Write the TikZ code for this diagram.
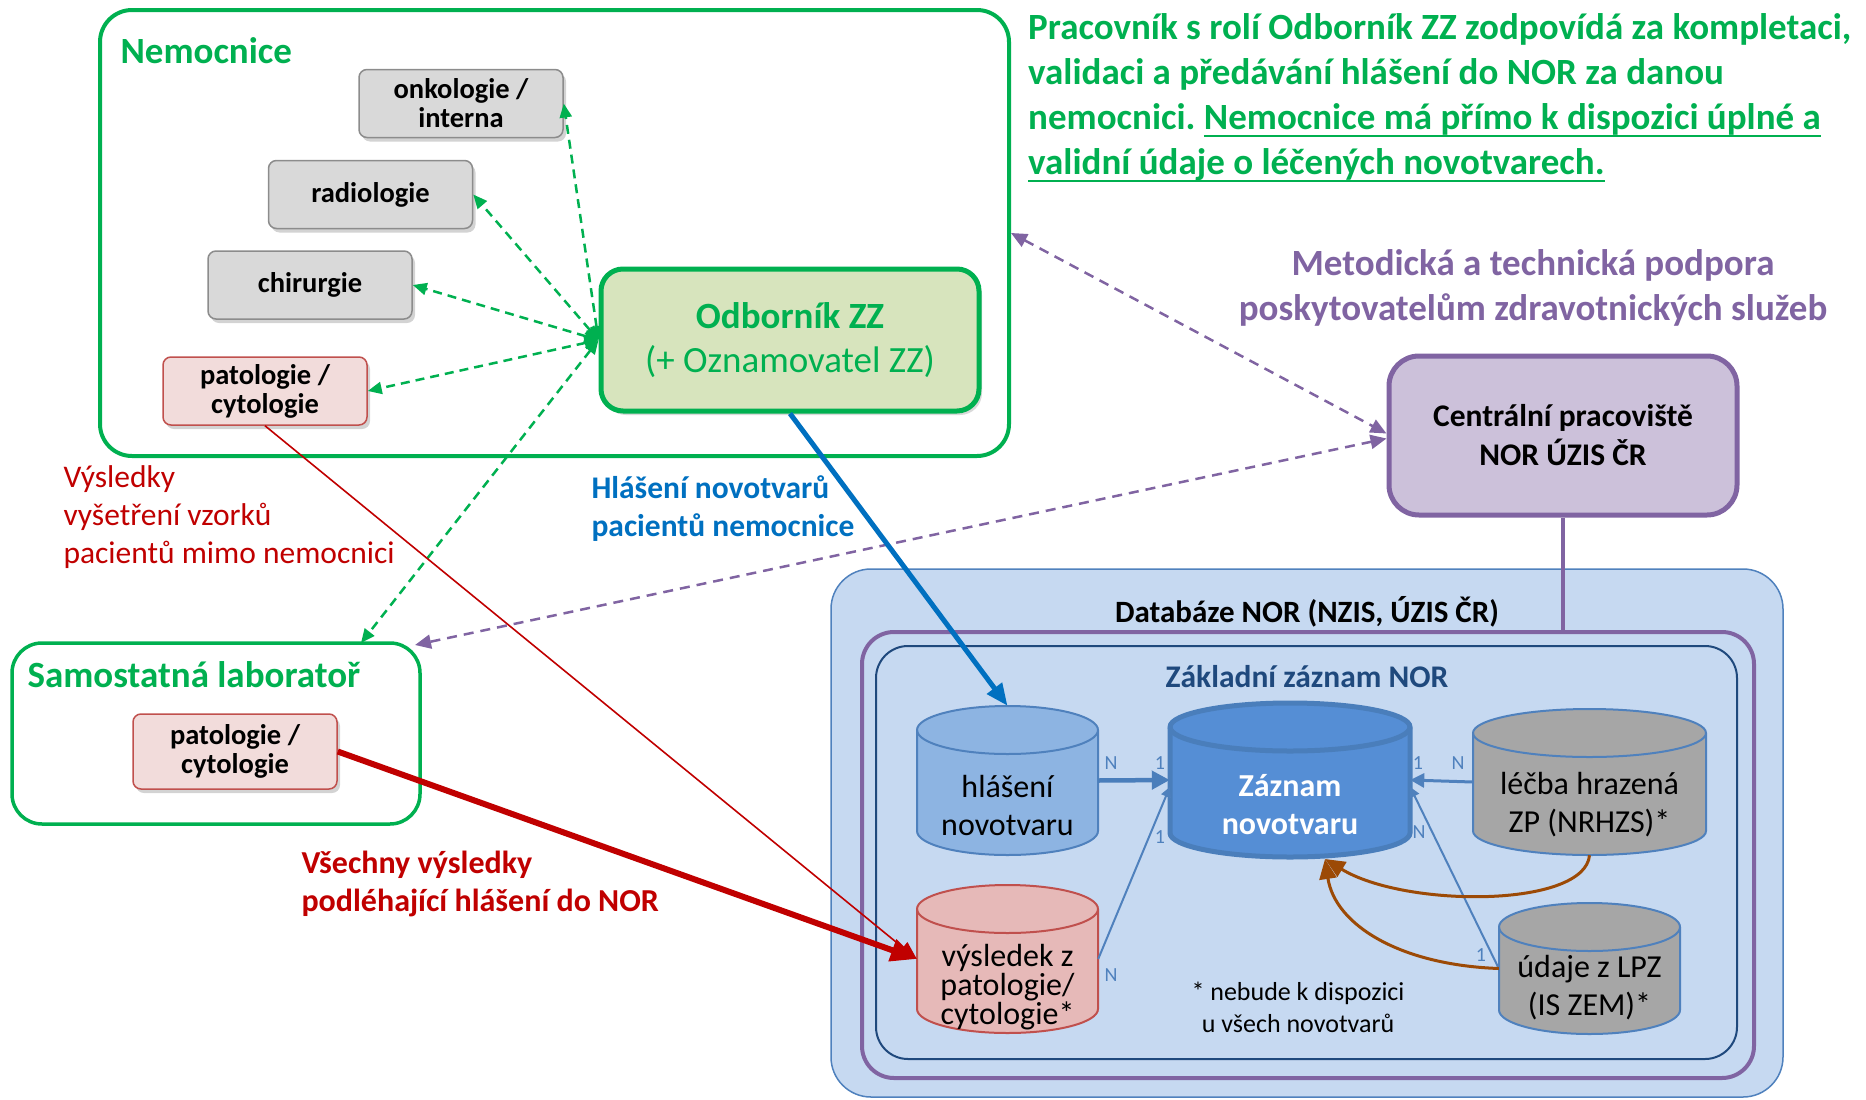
\documentclass[tikz,border=0pt]{standalone}
\usepackage{fontspec}
\setmainfont{Carlito}
\usetikzlibrary{arrows.meta,shadows,positioning}
\frenchspacing

\definecolor{zzgreen}{HTML}{00B050}
\definecolor{odbfill}{HTML}{D7E4BD}
\definecolor{greyfill}{HTML}{D9D9D9}
\definecolor{greyline}{HTML}{8C8C8C}
\definecolor{pinkfill}{HTML}{F2DCDB}
\definecolor{pinkline}{HTML}{C0504D}
\definecolor{norpurple}{HTML}{8064A2}
\definecolor{purplefill}{HTML}{CCC1DA}
\definecolor{dbfill}{HTML}{C6D9F1}
\definecolor{dbline}{HTML}{4F81BD}
\definecolor{darkblue}{HTML}{1F497D}
\definecolor{hlfill}{HTML}{8DB4E2}
\definecolor{zaznfill}{HTML}{558ED5}
\definecolor{zaznline}{HTML}{4A7EBB}
\definecolor{cylgrey}{HTML}{A6A6A6}
\definecolor{vysfill}{HTML}{E6B9B8}
\definecolor{norred}{HTML}{C00000}
\definecolor{norblue}{HTML}{0070C0}
\definecolor{lpzbrown}{HTML}{9C4A06}

\newcommand{\ulgreen}[1]{\setbox0\hbox{#1}\rlap{\rule[-8pt]{\wd0}{2.5pt}}\box0}

\newcommand{\dbcyl}[7]{%
  \filldraw[fill=#6,#7] (#2-#4/2,-#3-24) -- (#2-#4/2,-#3-#5+24)
    arc[start angle=180,end angle=360,x radius=#4/2,y radius=24]
    -- (#2+#4/2,-#3-24) arc[start angle=0,end angle=180,x radius=#4/2,y radius=24] -- cycle;
  \draw[#7] (#2-#4/2,-#3-24) arc[start angle=180,end angle=360,x radius=#4/2,y radius=24];
  \node[minimum width=#4,minimum height=#5,inner sep=0] (#1) at (#2,-#3-#5/2) {};}

\begin{document}
\begin{tikzpicture}[x=1pt, y=1pt,
  bigtxt/.style={font=\bfseries\fontsize{37}{45}\selectfont},
  midtxt/.style={font=\fontsize{31.5}{38}\selectfont},
  grp/.style={draw, rounded corners=32, inner sep=0},
  unit/.style={draw=greyline, fill=greyfill, line width=1.5, rounded corners=8,
    minimum width=204, minimum height=68, align=center,
    font=\bfseries\fontsize{28.5}{29}\selectfont,
    drop shadow={opacity=0.35, shadow xshift=3pt, shadow yshift=-4pt}},
  patbox/.style={unit, draw=pinkline, fill=pinkfill},
  cyltxt/.style={align=center, font=\fontsize{32}{38}\selectfont},
  card/.style={text=dbline, inner sep=0, font=\fontsize{20}{24}\selectfont},
  gdash/.style={zzgreen, line width=2.5, dash pattern=on 9pt off 6pt,
    arrows={Triangle[length=14pt,width=12pt]-Triangle[length=14pt,width=12pt]}},
  pdash/.style={norpurple, line width=2.5, dash pattern=on 10pt off 7pt,
    arrows={Triangle[length=16pt,width=14pt]-Triangle[length=16pt,width=14pt]}}]
\useasboundingbox (0,0) rectangle (1866,-1100);

\node[grp, draw=zzgreen, line width=4, minimum width=909, minimum height=446] (nem) at (554.5,-233) {};
\node[bigtxt, text=zzgreen, anchor=west] (nemlbl) at (117,-51) {Nemocnice};
\node[unit] (onko) at (461,-103.5) {onkologie /\\interna};
\node[unit] (radio) at (370.5,-194.5) {radiologie};
\node[unit] (chir) at (310,-285) {chirurgie};
\node[patbox] (hpat) at (265,-391) {patologie /\\cytologie};
\node[draw=zzgreen, fill=odbfill, line width=5, rounded corners=22, minimum width=378,
  minimum height=142, align=center, text=zzgreen, font=\fontsize{37}{44}\selectfont,
  drop shadow={opacity=0.3, shadow xshift=3pt, shadow yshift=-4pt}] (odb) at (790,-340)
  {\textbf{Odborník ZZ}\\(+ Oznamovatel ZZ)};

\node[bigtxt, text=zzgreen, anchor=west, align=left, inner sep=0] (resp) at (1028,-98)
  {Pracovník s rolí Odborník ZZ zodpovídá za kompletaci,\\
   validaci a předávání hlášení do NOR za danou\\
   nemocnici. \ulgreen{Nemocnice má přímo k dispozici úplné a}\\
   \ulgreen{validní údaje o léčených novotvarech.}};

\node[bigtxt, text=norpurple, align=center] (metod) at (1533,-288)
  {Metodická a technická podpora\\poskytovatelům zdravotnických služeb};
\node[draw=norpurple, fill=purplefill, line width=5, rounded corners=30, minimum width=348,
  minimum height=159, align=center, font=\bfseries\fontsize{31.5}{39}\selectfont] (cen) at (1563,-435.5)
  {Centrální pracoviště\\NOR ÚZIS ČR};

\node[grp, draw=dbline, fill=dbfill, line width=1.5, rounded corners=40, minimum width=952, minimum height=528] (db) at (1307,-833) {};
\node[grp, draw=norpurple, line width=4, minimum width=892, minimum height=446] (pur) at (1308,-855) {};
\node[grp, draw=darkblue, line width=2, minimum width=861, minimum height=413] (zakl) at (1306.5,-852.5) {};
\node[font=\bfseries\fontsize{31}{36}\selectfont] (dbtitle) at (1307,-612) {Databáze NOR (NZIS, ÚZIS ČR)};
\node[text=darkblue, font=\bfseries\fontsize{31.5}{36}\selectfont] (zakltitle) at (1307,-677) {Základní záznam NOR};
\draw[norpurple, line width=4] (cen.south) -- (cen.south |- pur.north);

\dbcyl{hl}{1007.5}{706}{181}{149}{hlfill}{draw=dbline,line width=2}
\dbcyl{zaz}{1290}{703}{240}{154}{zaznfill}{draw=zaznline,line width=5}
\dbcyl{lecba}{1589.5}{709}{233}{146}{cylgrey}{draw=dbline,line width=2}
\dbcyl{vys}{1007.5}{885}{181}{148}{vysfill}{draw=pinkline,line width=2}
\dbcyl{udaje}{1589.5}{903}{181}{131}{cylgrey}{draw=dbline,line width=2}
\node[cyltxt] (hltxt) at (1007.5,-805) {hlášení\\novotvaru};
\node[cyltxt, text=white, font=\bfseries\fontsize{32}{38}\selectfont] (zaztxt) at (1290,-805) {Záznam\\novotvaru};
\node[cyltxt] (lecbatxt) at (1589.5,-805) {léčba hrazená\\ZP (NRHZS)*};
\node[cyltxt, font=\fontsize{32}{29}\selectfont] (vystxt) at (1007.5,-987) {výsledek z\\patologie/\\cytologie*};
\node[cyltxt] (udajetxt) at (1589.5,-988) {údaje z LPZ\\(IS ZEM)*};
\node[align=center, font=\fontsize{26}{32}\selectfont] (pozn) at (1298,-1007) {* nebude k dispozici\\u všech novotvarů};

\draw[zaznline, line width=4.5, -{Triangle[length=18pt,width=18pt]}] (hl.east) -- (zaz.west);
\draw[dbline, line width=3, -{Triangle[length=14pt,width=14pt]}] (lecba.west) -- (zaz.east);
\draw[dbline, line width=2, -{Triangle[length=10pt,width=10pt]}] (vys.east) -- ([yshift=-7]zaz.west);
\draw[dbline, line width=2, -{Triangle[length=10pt,width=10pt]}] (udaje.west) -- ([yshift=-7]zaz.east);
\node[card] (c1) at (1111,-763) {N};
\node[card] (c2) at (1160,-763) {1};
\node[card] (c3) at (1160,-837) {1};
\node[card] (c4) at (1111,-975) {N};
\node[card] (c5) at (1418,-763) {1};
\node[card] (c6) at (1458,-763) {N};
\node[card] (c7) at (1419,-832) {N};
\node[card] (c8) at (1481,-955) {1};
\coordinate (zazbot) at (1325,-859);
\draw[lpzbrown, line width=3, -{Triangle[length=20pt,width=17pt]}] (lecba.south) .. controls (1585,-908) and (1405,-908) .. (zazbot);
\draw[lpzbrown, line width=3, -{Triangle[length=20pt,width=17pt]}] (udaje.west) .. controls (1400,-965) and (1335,-925) .. (zazbot);

\node[grp, draw=zzgreen, line width=3.5, rounded corners=30, minimum width=408, minimum height=181] (lab) at (216,-733.5) {};
\node[bigtxt, text=zzgreen, anchor=west] (lablbl) at (24,-675) {Samostatná laboratoř};
\node[patbox, minimum height=75] (labpat) at (235,-751.5) {patologie /\\cytologie};
\coordinate (labtop) at (361,-643);
\coordinate (labcorner) at (415,-645);

\node[midtxt, text=norred, anchor=west, align=left] (mimo) at (60,-517) {Výsledky\\vyšetření vzorků\\pacientů mimo nemocnici};
\node[midtxt, text=norblue, anchor=west, align=left, font=\bfseries\fontsize{31.5}{38}\selectfont] (hlas) at (588,-509) {Hlášení novotvarů\\pacientů nemocnice};
\node[midtxt, text=norred, anchor=west, align=left, font=\bfseries\fontsize{32}{38}\selectfont] (vse) at (298,-884) {Všechny výsledky\\podléhající hlášení do NOR};

\draw[gdash] (odb.west) to (onko.east);
\draw[gdash] (odb.west) to (radio.east);
\draw[gdash] (odb.west) to (chir.east);
\draw[gdash] (odb.west) to (hpat.east);
\draw[gdash] (odb.west) to (labtop);
\draw[pdash] (nem.east) to ([yshift=2]cen.west);
\draw[pdash] ([yshift=-3]cen.west) to (labcorner);
\draw[norred, line width=1.6, -{Triangle[length=18pt,width=14pt]}] (hpat.south) to (vys.west);
\draw[norred, line width=6, -{Triangle[length=26pt,width=22pt]}] (labpat.east) to (vys.west);
\draw[norblue, line width=5, -{Triangle[length=22pt,width=18pt]}] (odb.south) to (hl.north);
\end{tikzpicture}
\end{document}
